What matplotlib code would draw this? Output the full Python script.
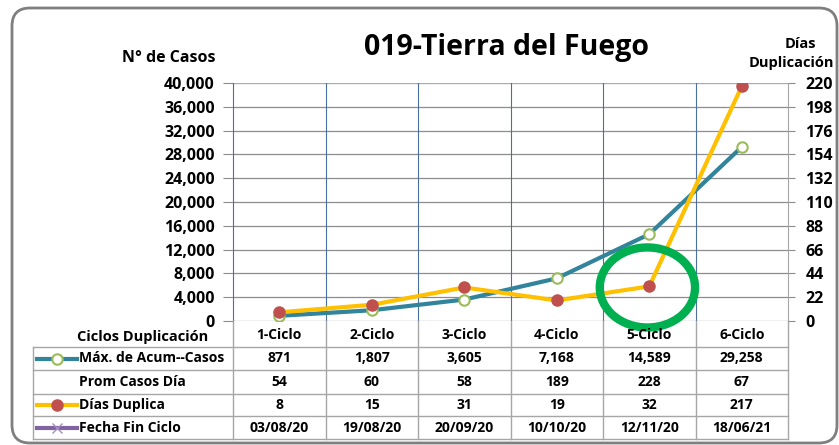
import matplotlib.pyplot as plt
from matplotlib.patches import Ellipse, FancyBboxPatch
from matplotlib.lines import Line2D
from matplotlib.transforms import IdentityTransform

plt.rcParams['font.family'] = ['Open Sans', 'DejaVu Sans']
plt.rcParams['font.weight'] = 'bold'

# data
ciclos = ['1-Ciclo', '2-Ciclo', '3-Ciclo', '4-Ciclo', '5-Ciclo', '6-Ciclo']
max_casos = [871, 1807, 3605, 7168, 14589, 29258]
prom_casos = [54, 60, 58, 189, 228, 67]
dias_duplica = [8, 15, 31, 19, 32, 217]
fecha_fin = ['03/08/20', '19/08/20', '20/09/20', '10/10/20', '12/11/20', '18/06/21']

W, H = 839, 445
fig = plt.figure(figsize=(W / 100, H / 100), dpi=100)

def fx(px):
    return px / W

def fy(py):
    return 1 - py / H

ax_l, ax_r, ax_t, ax_b = 233, 788, 83, 321
ax = fig.add_axes([fx(ax_l), fy(ax_b), fx(ax_r - ax_l), fy(ax_t) - fy(ax_b)])
ax2 = ax.twinx()

x = list(range(len(ciclos)))
ax.set_xlim(-0.5, len(ciclos) - 0.5)
ax.set_ylim(0, 40000)
ax2.set_ylim(0, 220)
ax.set_yticks(range(0, 40001, 4000))
ax2.set_yticks(range(0, 221, 22))
ax.set_yticklabels([f'{v:,}' for v in range(0, 40001, 4000)])
ax.set_xticks([])

ax.grid(axis='y', color='#8c8c8c', lw=0.9)
ax.axhline(40000, color='#9fb4d2', lw=1.2, zorder=1)
for i in range(1, len(ciclos)):
    ax.axvline(i - 0.5, color='#4a6fa5', lw=0.8)
ax.set_axisbelow(True)

for a in (ax, ax2):
    for s in a.spines.values():
        s.set_visible(False)
ax.spines['left'].set_visible(True)
ax.spines['left'].set_color('#4a6fa5')
ax.spines['left'].set_linewidth(0.8)
ax2.spines['right'].set_visible(True)
ax2.spines['right'].set_color('#a6a6a6')
ax2.spines['right'].set_linewidth(0.8)
ax.tick_params(axis='y', length=7, width=0.8, color='#8c8c8c', labelsize=11.5, pad=6)
ax2.tick_params(axis='y', length=5, width=0.8, color='#8c8c8c', labelsize=11.5, pad=7.5)

ax.plot(x, max_casos, color='#31849b', lw=3, marker='o', ms=7.5,
        mfc='white', mec='#9bbb59', mew=1.5, zorder=3)
ax2.plot(x, dias_duplica, color='#ffc000', lw=3, marker='o', ms=8,
         mfc='#c0504d', mec='#c0504d', zorder=4)

ax2.add_patch(Ellipse((3.98, 31), 1.03, 74, fill=False, ec='#00b050', lw=6,
                      clip_on=False, zorder=5))

# titles
fig.text(fx(506), fy(48), '019-Tierra del Fuego', ha='center', va='center', fontsize=20.5)
fig.text(fx(215), fy(58), 'N° de Casos', ha='right', va='center', fontsize=11.5)
fig.text(fx(800), fy(44), 'Días', ha='center', va='center', fontsize=10.5)
fig.text(fx(834), fy(63), 'Duplicación', ha='right', va='center', fontsize=10.5)

# data table below the chart
gray = '#a6a6a6'
col_w = (ax_r - ax_l) / len(ciclos)
row_lines = [347, 370, 394, 416, 439]
tab_l = 33
for yy in row_lines:
    fig.add_artist(Line2D([fx(tab_l), fx(ax_r)], [fy(yy), fy(yy)], color=gray, lw=1))
fig.add_artist(Line2D([fx(tab_l), fx(tab_l)], [fy(row_lines[0]), fy(row_lines[-1])], color=gray, lw=1))
for i in range(len(ciclos) + 1):
    xx = ax_l + i * col_w
    fig.add_artist(Line2D([fx(xx), fx(xx)], [fy(ax_b), fy(row_lines[-1])], color=gray, lw=1))

fig.text(fx(143), fy(337), 'Ciclos Duplicación', ha='center', va='center', fontsize=10.5)
rows = [
    ('Máx. de Acum--Casos', [f'{v:,}' for v in max_casos]),
    ('Prom Casos Día', [str(v) for v in prom_casos]),
    ('Días Duplica', [str(v) for v in dias_duplica]),
    ('Fecha Fin Ciclo', fecha_fin),
]
for j, c in enumerate(ciclos):
    fig.text(fx(ax_l + (j + 0.5) * col_w), fy(335), c, ha='center', va='center', fontsize=10)
for r, (label, vals) in enumerate(rows):
    yc = (row_lines[r] + row_lines[r + 1]) / 2
    fig.text(fx(79), fy(yc), label, ha='left', va='center', fontsize=10)
    for j, v in enumerate(vals):
        fig.text(fx(ax_l + (j + 0.5) * col_w), fy(yc), v, ha='center', va='center', fontsize=10)

# legend keys in the table
def key(yc, color, **mk):
    fig.add_artist(Line2D([fx(37), fx(77)], [fy(yc), fy(yc)], color=color, lw=3))
    fig.add_artist(Line2D([fx(57)], [fy(yc)], color=color, **mk))

key(359, '#31849b', marker='o', ms=7.5, mfc='white', mec='#9bbb59', mew=1.5)
key(405, '#ffc000', marker='o', ms=8, mfc='#c0504d', mec='#c0504d')
key(427.5, '#8064a2', marker='x', ms=7, mec='#a28fc0', mew=1)

# rounded outer frame (pixel coordinates)
fig.add_artist(FancyBboxPatch((12, H - 443), 825, 435,
                              boxstyle='round,pad=0,rounding_size=18',
                              fill=False, ec='#7f7f7f', lw=2,
                              transform=IdentityTransform()))

fig.savefig('out.png', dpi=100)
